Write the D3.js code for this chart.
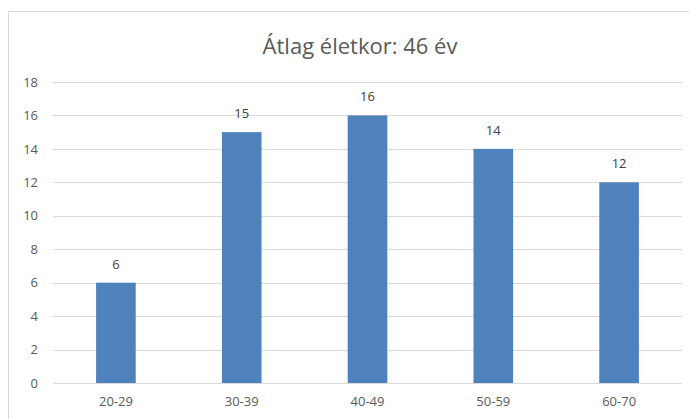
<!DOCTYPE html>
<html>
<head>
<meta charset="utf-8">
<script src="https://cdn.jsdelivr.net/npm/d3@7"></script>
<style>
  html, body { margin: 0; padding: 0; background: #fff; }
  svg { display: block; }
  text { font-family: "Open Sans", "Noto Sans", sans-serif; }
</style>
</head>
<body>
<svg id="chart" width="689" height="419"></svg>
<script>
const title = "Átlag életkor: 46 év";
const categories = ["20-29", "30-39", "40-49", "50-59", "60-70"];
const values = [6, 15, 16, 14, 12];
const yTicks = [0, 2, 4, 6, 8, 10, 12, 14, 16, 18];

const svg = d3.select("#chart");
const W = 689, H = 419;
const margin = { left: 53, right: 7, top: 82, bottom: 36 };

svg.append("rect").attr("width", W).attr("height", H).attr("fill", "#fff");
// chart border
svg.append("rect")
  .attr("x", 8.5).attr("y", 11.5)
  .attr("width", W + 10).attr("height", H + 10)
  .attr("fill", "none").attr("stroke", "#d9d9d9").attr("stroke-width", 1);

const x = d3.scaleBand()
  .domain(categories)
  .range([margin.left, W - margin.right])
  .paddingInner(0.685)
  .paddingOuter(0.3425);

const y = d3.scaleLinear()
  .domain([0, 18])
  .range([383, 82]);

// gridlines
svg.append("g").selectAll("line")
  .data(yTicks)
  .join("line")
  .attr("x1", margin.left).attr("x2", W - margin.right)
  .attr("y1", d => Math.round(y(d)) + 0.5).attr("y2", d => Math.round(y(d)) + 0.5)
  .attr("stroke", "#d9d9d9").attr("stroke-width", 1);

// y axis labels
const yAxis = d3.axisLeft(y).tickValues(yTicks).tickSize(0).tickPadding(15);
const gy = svg.append("g").attr("transform", `translate(${margin.left},0)`).call(yAxis);
gy.select(".domain").remove();
gy.selectAll("text").attr("fill", "#595959").style("font-size", "13px")
  .style("font-family", "'Open Sans', 'Noto Sans', sans-serif");

// x axis labels
const xAxis = d3.axisBottom(x).tickSize(0).tickPadding(14);
const gx = svg.append("g").attr("transform", `translate(0,${y(0)})`).call(xAxis);
gx.select(".domain").remove();
gx.selectAll("text").attr("fill", "#595959").style("font-size", "13px")
  .style("font-family", "'Open Sans', 'Noto Sans', sans-serif");

// bars
svg.append("g").selectAll("rect")
  .data(values)
  .join("rect")
  .attr("x", (d, i) => x(categories[i]))
  .attr("y", d => y(d))
  .attr("width", x.bandwidth())
  .attr("height", d => y(0) - y(d))
  .attr("fill", "#4f81bd");

// value labels
svg.append("g").selectAll("text")
  .data(values)
  .join("text")
  .attr("x", (d, i) => x(categories[i]) + x.bandwidth() / 2)
  .attr("y", d => y(d) - 14)
  .attr("text-anchor", "middle")
  .attr("fill", "#404040")
  .style("font-size", "13px")
  .text(d => d);

// title
svg.append("text")
  .attr("x", 360).attr("y", 54)
  .attr("text-anchor", "middle")
  .attr("fill", "#595959")
  .style("font-size", "22px")
  .text(title);
</script>
</body>
</html>
